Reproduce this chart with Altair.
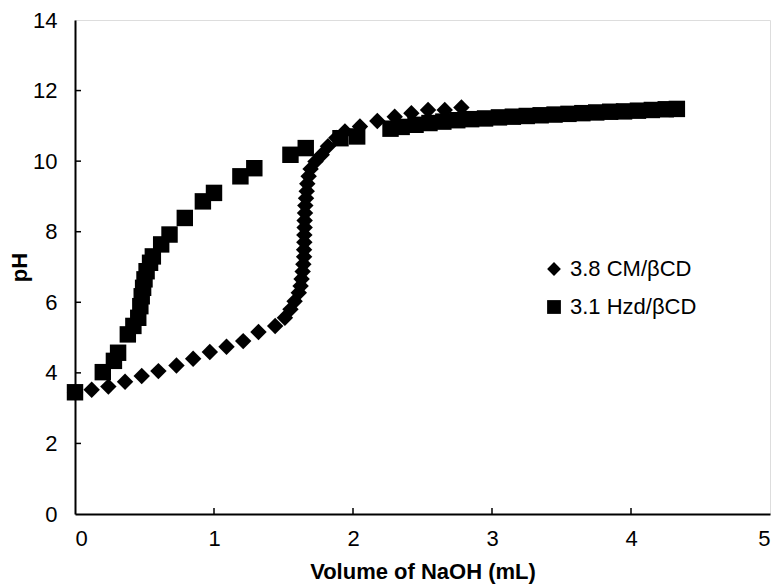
import altair as alt
import pandas as pd

# ---- data ----
series_names = ["3.8 CM/βCD", "3.1 Hzd/βCD"]

cm_x = [0.00, 0.12, 0.24, 0.36, 0.48, 0.60, 0.73, 0.85, 0.97, 1.09, 1.21, 1.32,
        1.44, 1.51, 1.55, 1.58, 1.61, 1.623, 1.630, 1.638, 1.643, 1.648, 1.648,
        1.650, 1.650, 1.652, 1.652, 1.655, 1.657, 1.662, 1.667, 1.671, 1.681,
        1.695, 1.73, 1.775, 1.82, 1.88, 1.942, 2.05, 2.175, 2.30, 2.42, 2.54,
        2.66, 2.78]
cm_ph = [3.45, 3.52, 3.61, 3.75, 3.91, 4.05, 4.21, 4.40, 4.59, 4.74, 4.90, 5.16,
         5.33, 5.56, 5.80, 6.03, 6.27, 6.46, 6.66, 6.87, 7.08, 7.29, 7.49,
         7.70, 7.91, 8.12, 8.32, 8.53, 8.74, 8.95, 9.15, 9.36, 9.57,
         9.78, 9.99, 10.18, 10.42, 10.66, 10.84, 10.98, 11.14, 11.26, 11.36, 11.45,
         11.45, 11.52]

hzd_x = [0.00, 0.20, 0.28, 0.31, 0.38, 0.42, 0.455, 0.47, 0.48, 0.49, 0.50, 0.515,
         0.54, 0.56, 0.62, 0.68, 0.79, 0.92, 1.00, 1.19, 1.29, 1.55, 1.66, 1.91,
         2.03, 2.27, 2.35, 2.45, 2.55, 2.65, 2.75, 2.85, 2.95, 3.05, 3.15, 3.25,
         3.35, 3.45, 3.55, 3.65, 3.75, 3.85, 3.95, 4.05, 4.15, 4.25, 4.33]
hzd_ph = [3.45, 4.02, 4.34, 4.57, 5.09, 5.33, 5.56, 5.89, 6.17, 6.41, 6.65, 6.88,
          7.12, 7.30, 7.64, 7.92, 8.39, 8.86, 9.10, 9.57, 9.80, 10.18, 10.37, 10.65,
          10.70, 10.92, 10.97, 11.03, 11.08, 11.12, 11.16, 11.19, 11.21, 11.24, 11.26, 11.28,
          11.30, 11.32, 11.34, 11.36, 11.38, 11.40, 11.41, 11.43, 11.45, 11.47, 11.48]

x_ticks = [0, 1, 2, 3, 4, 5]
y_ticks = [0, 2, 4, 6, 8, 10, 12, 14]
x_inner_ticks = [1, 2, 3, 4]
y_inner_ticks = [2, 4, 6, 8, 10, 12]

df = pd.concat([
    pd.DataFrame({"volume": cm_x, "ph": cm_ph, "series": series_names[0]}),
    pd.DataFrame({"volume": hzd_x, "ph": hzd_ph, "series": series_names[1]}),
], ignore_index=True)

W, H = 695, 494
FONT = "Liberation Sans"

xscale = alt.Scale(domain=[0, 5], nice=False, zero=False)
yscale = alt.Scale(domain=[0, 14], nice=False)

points = alt.Chart(df).mark_point(filled=True, opacity=1, color="black",
                                   strokeWidth=0, size=270).encode(
    x=alt.X("volume:Q", scale=xscale,
            axis=alt.Axis(values=x_ticks, format="d", title="Volume of NaOH (mL)", grid=False,
                          ticks=False, labelPadding=14, titlePadding=12,
                          labelFontSize=22, titleFontSize=22, titleFontWeight="bold",
                          domainColor="black", domainWidth=2,
                          labelColor="black", titleColor="black",
                          labelFont=FONT, titleFont=FONT)),
    y=alt.Y("ph:Q", scale=yscale,
            axis=alt.Axis(values=y_ticks, format="d", title="pH", grid=False,
                          ticks=False, labelPadding=18, titlePadding=1,
                          labelFontSize=22, titleFontSize=22, titleFontWeight="bold",
                          domainColor="black", domainWidth=2,
                          labelColor="black", titleColor="black",
                          labelFont=FONT, titleFont=FONT)),
    shape=alt.Shape("series:N",
                    scale=alt.Scale(domain=series_names, range=["diamond", "square"]),
                    legend=alt.Legend(title=None, orient="none", legendX=468, legendY=238,
                                      symbolSize=190, symbolFillColor="black",
                                      symbolStrokeColor="black", symbolStrokeWidth=0,
                                      symbolType="square",
                                      labelFontSize=22, labelFont=FONT, labelColor="black",
                                      labelOffset=5, rowPadding=16, padding=0)),
)

xt = alt.Chart(pd.DataFrame({"volume": x_inner_ticks})).mark_rule(
    color="black", strokeWidth=1.5).encode(
    x=alt.X("volume:Q", scale=xscale),
    y=alt.value(H), y2=alt.value(H - 6))

yt = alt.Chart(pd.DataFrame({"ph": y_inner_ticks})).mark_rule(
    color="black", strokeWidth=1.5).encode(
    y=alt.Y("ph:Q", scale=yscale),
    x=alt.value(0), x2=alt.value(6))

chart = alt.layer(xt, yt, points).properties(
    width=W, height=H,
    padding={"left": 75, "top": 20, "right": 10, "bottom": 71},
    autosize="none",
).configure_view(stroke="black", strokeWidth=2).configure(background="white")

chart.save("out.html", embed_options={"renderer": "svg", "actions": False})
